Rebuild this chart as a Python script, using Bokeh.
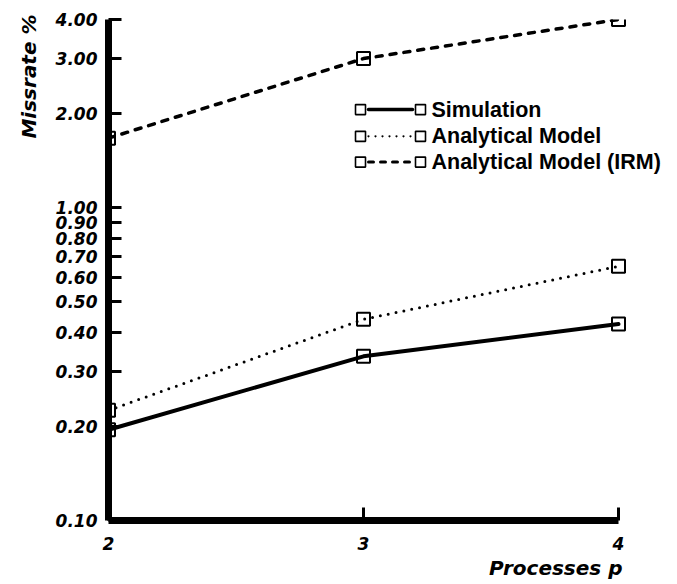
import math
from bokeh.plotting import figure
from bokeh.models import FixedTicker, Label, Range1d, Title
from bokeh.embed import file_html
from bokeh.resources import INLINE

# ---- data ----
processes = [2, 3, 4]
simulation = [0.195, 0.335, 0.425]
analytical = [0.225, 0.44, 0.65]
analytical_irm = [1.67, 3.0, 4.0]

series_names = ["Simulation", "Analytical Model", "Analytical Model (IRM)"]

y_ticks = [0.1, 0.2, 0.3, 0.4, 0.5, 0.6, 0.7, 0.8, 0.9, 1.0, 2.0, 3.0, 4.0]
y_tick_labels = ["0.10", "0.20", "0.30", "0.40", "0.50", "0.60", "0.70",
                 "0.80", "0.90", "1.00", "2.00", "3.00", "4.00"]
x_ticks = [2, 3, 4]
x_tick_labels = ["2", "3", "4"]

x_title = "Processes p"
y_title = "Missrate %"

# ---- layout ----
W, H = 677, 580
BL, BT = 108, 19
AXIS_W = 510          # pixels from x=2 to x=4
FW, FH = 562, 506     # frame extends past x=4 so the legend text fits
BR = W - BL - FW
BB = H - BT - FH
X0 = 2
X1 = X0 + FW / AXIS_W * 2
Y0, Y1 = 0.1, 4.0

p = figure(width=W, height=H, x_axis_type="linear", y_axis_type="log",
           x_range=Range1d(X0, X1), y_range=Range1d(Y0, Y1),
           output_backend="svg", toolbar_location=None,
           min_border_left=BL, min_border_right=BR,
           min_border_top=BT, min_border_bottom=BB)
p.outline_line_color = None
p.grid.visible = False
p.background_fill_color = "white"
p.border_fill_color = "white"


def fx(px):
    # pixel offset from frame left -> data x
    return X0 + px / FW * (X1 - X0)


def fy(py):
    # pixel offset from frame top -> data y (log)
    l0, l1 = math.log10(Y0), math.log10(Y1)
    return 10 ** (l1 - py / FH * (l1 - l0))


styles = [
    dict(line_width=4, line_dash="solid"),
    dict(line_width=3, line_dash="0 8"),
    dict(line_width=3.5, line_dash="6 8"),
]
legend_styles = [
    dict(line_width=3.5, line_dash="solid"),
    dict(line_width=2.2, line_dash="0 7"),
    dict(line_width=3, line_dash="5 7"),
]
data = [simulation, analytical, analytical_irm]

for vals, st in zip(data, styles):
    p.line(processes, vals, line_color="black", line_cap="round", **st)
    p.scatter(processes, vals, marker="square", size=13, fill_color=None,
              line_color="black", line_width=2)

# ---- custom legend (square - line - square) ----
leg_left = 360 - BL
leg_right = 420 - BL
leg_text = 431 - BL
leg_rows = [110 - BT, 137 - BT, 163 - BT]
for name, st, row in zip(series_names, legend_styles, leg_rows):
    yv = fy(row)
    p.scatter([fx(leg_left), fx(leg_right)], [yv, yv], marker="square", size=10,
              fill_color=None, line_color="black", line_width=1.6)
    p.line([fx(leg_left + 8), fx(leg_right - 8)], [yv, yv], line_color="black",
           line_cap="round", **st)
    p.add_layout(Label(x=fx(leg_text), y=yv, text=name, text_align="left",
                       text_baseline="middle", text_font="Liberation Sans",
                       text_font_style="bold",
                       text_font_size="21.5px", text_color="black"))

# ---- axes ----
for ax in (p.xaxis[0], p.yaxis[0]):
    ax.axis_line_width = 7
    ax.axis_line_color = "black"
    ax.major_tick_in = 13
    ax.major_tick_out = 0
    ax.major_tick_line_width = 3
    ax.minor_tick_in = 0
    ax.minor_tick_out = 0
    ax.major_label_text_font = "DejaVu Sans"
    ax.major_label_text_font_style = "bold italic"
    ax.major_label_text_font_size = "17px"
    ax.major_label_text_color = "black"

p.xaxis[0].bounds = (x_ticks[0], x_ticks[-1])
p.yaxis[0].major_label_standoff = 11
p.xaxis[0].major_label_standoff = 16

p.yaxis[0].ticker = FixedTicker(ticks=y_ticks, minor_ticks=[])
p.yaxis[0].major_label_overrides = dict(zip(y_ticks, y_tick_labels))
p.xaxis[0].ticker = FixedTicker(ticks=x_ticks, minor_ticks=[])
p.xaxis[0].major_label_overrides = dict(zip(x_ticks, x_tick_labels))

xt = Title(text=x_title, align="right", text_font="DejaVu Sans",
           text_font_style="bold italic", text_font_size="20px",
           text_color="black", standoff=2, offset=(FW - AXIS_W) - 4)
p.add_layout(xt, "below")
yt = Title(text=y_title, align="right", text_font="DejaVu Sans",
           text_font_style="bold italic", text_font_size="20px",
           text_color="black", standoff=23, offset=-5)
p.add_layout(yt, "left")

open("out.html", "w").write(file_html(p, INLINE))
